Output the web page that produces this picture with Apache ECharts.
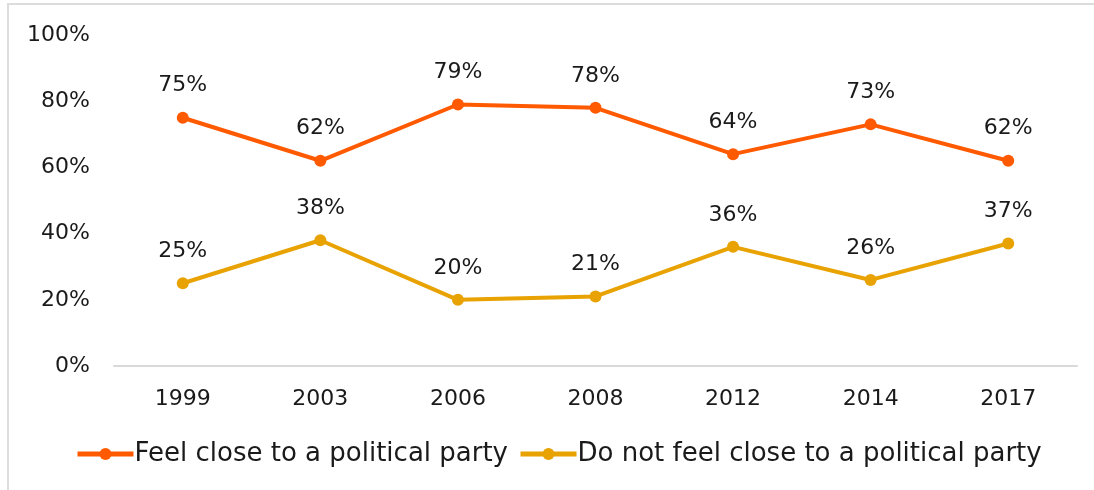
<!DOCTYPE html>
<html>
<head>
<meta charset="utf-8">
<script src="https://cdn.jsdelivr.net/npm/echarts@6/dist/echarts.min.js"></script>
<style>
html,body{margin:0;padding:0;background:#fff;}
#chart{width:1094px;height:490px;}
</style>
</head>
<body>
<div id="chart"></div>
<script>
const years = ['1999','2003','2006','2008','2012','2014','2017'];
const feelClose = [75, 62, 79, 78, 64, 73, 62];
const notClose = [25, 38, 20, 21, 36, 26, 37];
const seriesNames = ['Feel close to a political party', 'Do not feel close to a political party'];
const yTicks = [0, 20, 40, 60, 80, 100];

const FONT = 'DejaVu Sans';
const chart = echarts.init(document.getElementById('chart'));
const colors = ['#FF5A00', '#E8A202'];

function lineSeries(name, data, color) {
  return {
    name: name,
    type: 'line',
    data: data,
    symbol: 'circle',
    symbolSize: 12,
    lineStyle: { width: 4, color: color },
    itemStyle: { color: color },
    label: {
      show: true,
      position: 'top',
      distance: 15,
      formatter: p => p.value + '%',
      fontFamily: FONT,
      fontSize: 22,
      color: '#1a1a1a'
    },
    emphasis: { disabled: true },
    animation: false
  };
}

chart.setOption({
  animation: false,
  backgroundColor: '#fff',
  color: colors,
  graphic: [{
    type: 'rect',
    shape: { x: 8, y: 4, width: 1200, height: 600 },
    style: { fill: 'none', stroke: '#dcdcdc', lineWidth: 2 },
    silent: true
  }],
  grid: { left: 114, right: 17, top: 35, bottom: 124, containLabel: false },
  legend: {
    bottom: 18,
    left: 70,
    itemWidth: 56,
    itemHeight: 15,
    itemGap: 10,
    lineStyle: { width: 5 },
    textStyle: { fontFamily: FONT, fontSize: 26, color: '#1a1a1a', padding: [0, 0, 0, -4] },
    data: seriesNames
  },
  xAxis: {
    type: 'category',
    data: years,
    boundaryGap: true,
    axisLine: { show: true, lineStyle: { color: '#d9d9d9', width: 2 } },
    axisTick: { show: false },
    axisLabel: { fontFamily: FONT, fontSize: 22, color: '#1a1a1a', margin: 22 },
    splitLine: { show: false }
  },
  yAxis: {
    type: 'value',
    min: yTicks[0],
    max: yTicks[yTicks.length - 1],
    interval: 20,
    axisLine: { show: false },
    axisTick: { show: false },
    splitLine: { show: false },
    axisLabel: { fontFamily: FONT, fontSize: 22, color: '#1a1a1a', margin: 24, formatter: v => v + '%' }
  },
  series: [
    lineSeries(seriesNames[0], feelClose, colors[0]),
    lineSeries(seriesNames[1], notClose, colors[1])
  ]
});
</script>
</body>
</html>
